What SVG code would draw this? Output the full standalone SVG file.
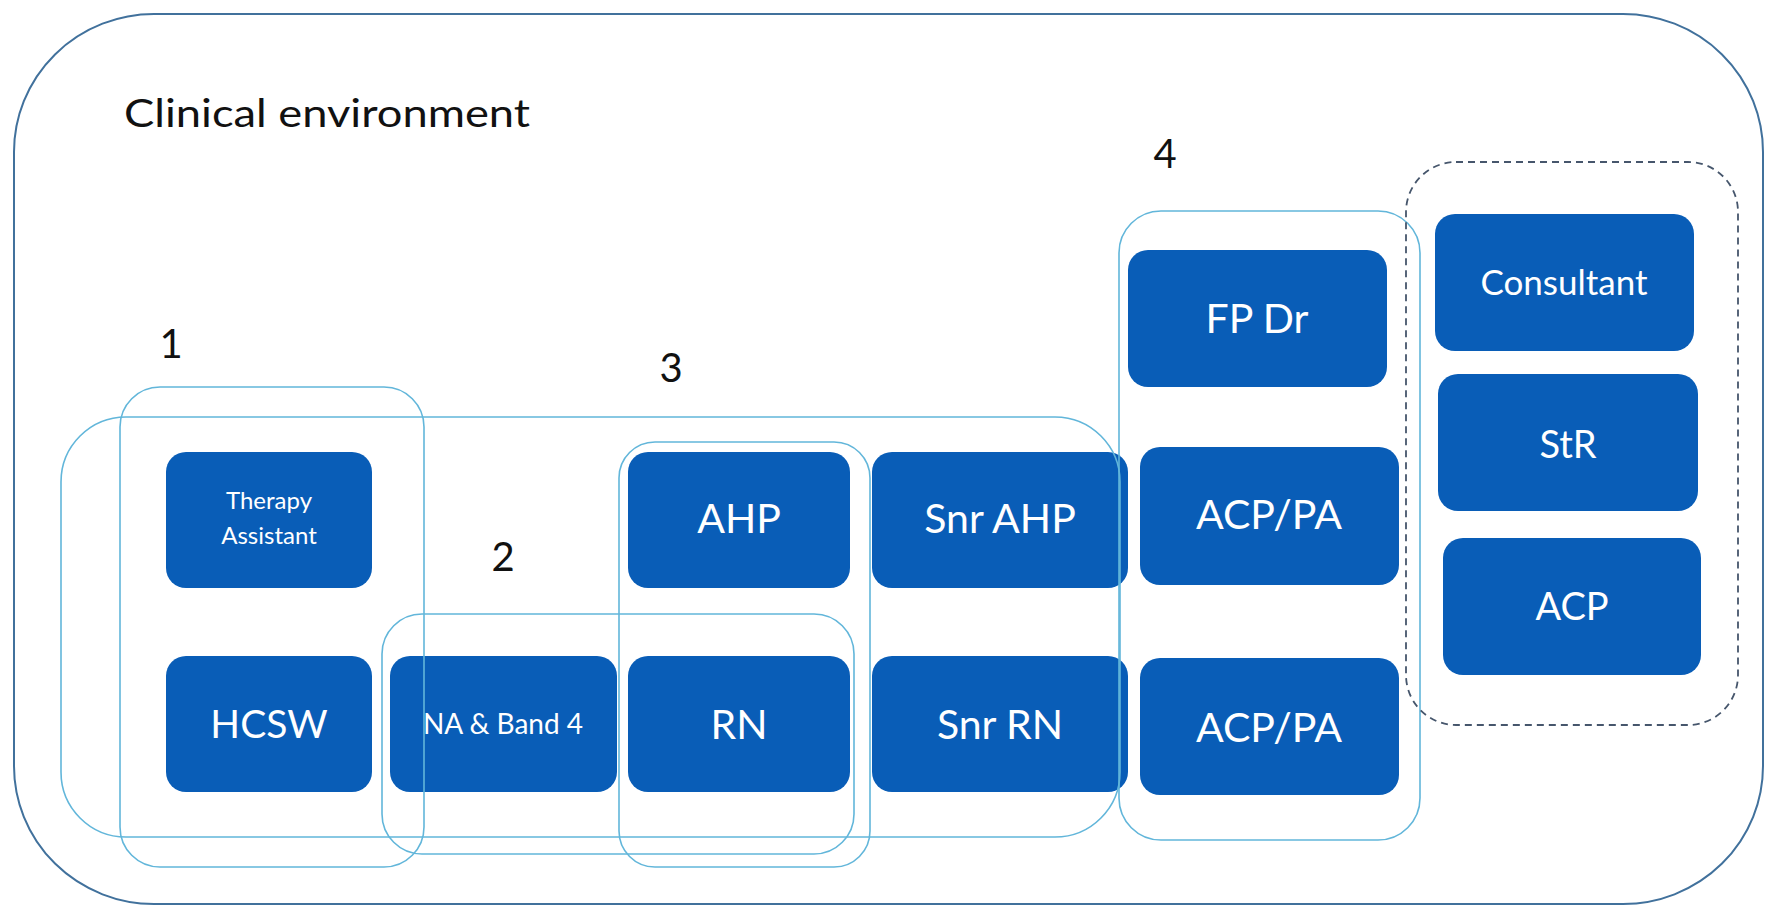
<svg xmlns="http://www.w3.org/2000/svg" width="1765" height="907" viewBox="0 0 1765 907">
<style>
.node rect{fill:#095DB7;}
.node text{fill:#ffffff;font-family:Lato,"Liberation Sans",sans-serif;text-anchor:middle;}
.grp{fill:none;stroke:#62B6DA;stroke-width:1.6;}
.dash{fill:none;stroke:#46566C;stroke-width:1.8;stroke-dasharray:7 5;}
.lbl{fill:#111111;font-family:Lato,"Liberation Sans",sans-serif;font-size:40px;text-anchor:middle;}
</style>
<rect width="1765" height="907" fill="#ffffff"/>
<rect id="container" x="14" y="14" width="1749" height="890" rx="140" ry="138" fill="none" stroke="#41719C" stroke-width="2"/>
<text x="124" y="127" font-family="Lato,'Liberation Sans',sans-serif" font-size="39" fill="#111111" textLength="406" lengthAdjust="spacingAndGlyphs">Clinical environment</text>

<g id="n-therapy" class="node"><rect x="166" y="452" width="206" height="136" rx="20"/><text font-size="24"><tspan x="269" y="509">Therapy</tspan><tspan x="269" y="544">Assistant</tspan></text></g>
<g id="n-hcsw" class="node"><rect x="166" y="656" width="206" height="136" rx="20"/><text x="269" y="738" font-size="39">HCSW</text></g>
<g id="n-na" class="node"><rect x="390" y="656" width="227" height="136" rx="20"/><text x="503" y="734" font-size="28">NA &amp; Band 4</text></g>
<g id="n-ahp" class="node"><rect x="628" y="452" width="222" height="136" rx="20"/><text x="739" y="533" font-size="41">AHP</text></g>
<g id="n-rn" class="node"><rect x="628" y="656" width="222" height="136" rx="20"/><text x="739" y="739" font-size="41">RN</text></g>
<g id="n-snrahp" class="node"><rect x="872" y="452" width="256" height="136" rx="20"/><text x="1000" y="533" font-size="41">Snr AHP</text></g>
<g id="n-snrrn" class="node"><rect x="872" y="656" width="256" height="136" rx="20"/><text x="1000" y="739" font-size="41">Snr RN</text></g>
<g id="n-fpdr" class="node"><rect x="1128" y="250" width="259" height="137" rx="20"/><text x="1257" y="333" font-size="41">FP Dr</text></g>
<g id="n-acppa1" class="node"><rect x="1140" y="447" width="259" height="138" rx="20"/><text x="1269" y="529" font-size="41">ACP/PA</text></g>
<g id="n-acppa2" class="node"><rect x="1140" y="658" width="259" height="137" rx="20"/><text x="1269" y="742" font-size="41">ACP/PA</text></g>
<g id="n-consultant" class="node"><rect x="1435" y="214" width="259" height="137" rx="20"/><text x="1564" y="295" font-size="35">Consultant</text></g>
<g id="n-str" class="node"><rect x="1438" y="374" width="260" height="137" rx="20"/><text x="1568" y="458" font-size="38">StR</text></g>
<g id="n-acp" class="node"><rect x="1443" y="538" width="258" height="137" rx="20"/><text x="1572" y="620" font-size="38">ACP</text></g>

<g id="connectors">
<rect id="g-wide" class="grp" x="61" y="417" width="1059" height="420" rx="65"/>
<rect id="g1" class="grp" x="120" y="387" width="304" height="480" rx="40"/>
<rect id="g2" class="grp" x="382" y="614" width="472" height="240" rx="40"/>
<rect id="g3" class="grp" x="619" y="442" width="251" height="425" rx="36"/>
<rect id="g4" class="grp" x="1119" y="211" width="301" height="629" rx="42"/>
<rect id="g5" class="dash" x="1406" y="162" width="332" height="563" rx="50"/>
</g>

<text class="lbl" x="171" y="358">1</text>
<text class="lbl" x="503" y="571">2</text>
<text class="lbl" x="671" y="382">3</text>
<text class="lbl" x="1165" y="168">4</text>
</svg>
